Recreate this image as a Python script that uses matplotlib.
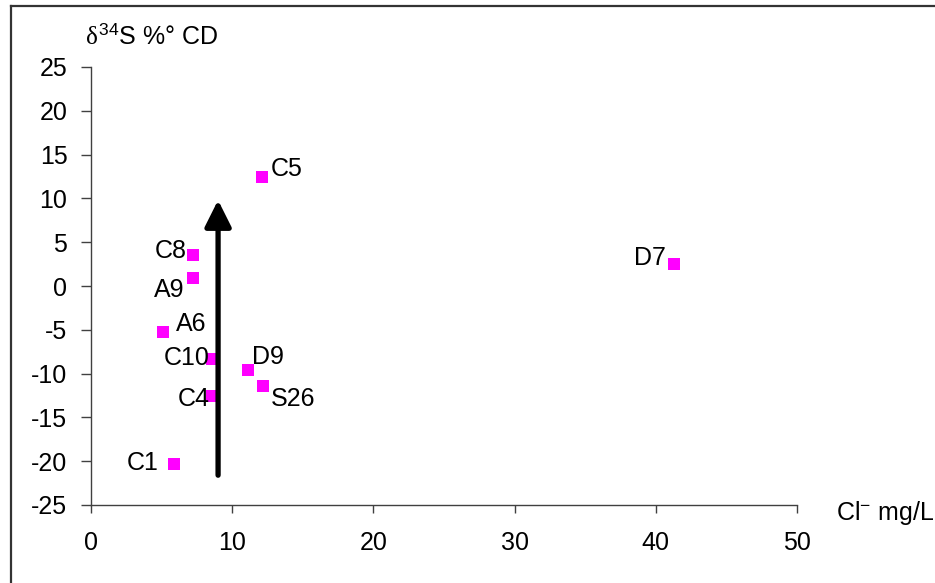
import matplotlib
matplotlib.use("Agg")
import matplotlib.pyplot as plt
from matplotlib.lines import Line2D

plt.rcParams['font.family'] = ['Liberation Sans', 'DejaVu Sans']
plt.rcParams['mathtext.fontset'] = 'custom'
plt.rcParams['mathtext.rm'] = 'Liberation Sans'
plt.rcParams['mathtext.it'] = 'Liberation Serif'

# Data
samples = ["C5", "C8", "A9", "A6", "C10", "D9", "S26", "C4", "C1", "D7"]
chloride = [12.1, 7.25, 7.25, 5.1, 8.55, 11.1, 12.2, 8.55, 5.85, 41.3]
delta34s = [12.4, 3.5, 0.9, -5.2, -8.3, -9.6, -11.4, -12.6, -20.3, 2.5]
# label anchor points (data coords) and alignment
label_x = [12.75, 6.75, 6.65, 8.2, 8.4, 11.4, 12.75, 8.4, 4.8, 40.7]
label_y = [13.35, 4.05, -0.4, -4.35, -8.25, -8.15, -12.85, -12.85, -20.15, 3.25]
label_ha = ["left", "right", "right", "right", "right", "left", "left", "right", "right", "right"]

x_ticks = [0, 10, 20, 30, 40, 50]
y_ticks = [-25, -20, -15, -10, -5, 0, 5, 10, 15, 20, 25]
arrow_x = 9.0
arrow_from = -21.6
arrow_to = 9.8

FS = 18
W, H = 935, 583
fig = plt.figure(figsize=(W / 100, H / 100), dpi=100)
left, right, top, bottom = 91, 797, 67, 505
ax = fig.add_axes([left / W, (H - bottom) / H, (right - left) / W, (bottom - top) / H])

ax.scatter(chloride, delta34s, marker='s', s=68, color='#FF00FF', zorder=3, linewidths=0)

for name, lx, ly, ha in zip(samples, label_x, label_y, label_ha):
    ax.text(lx, ly, name, ha=ha, va='center', fontsize=FS, color='black', zorder=4)

ax.annotate('', xy=(arrow_x, arrow_to), xytext=(arrow_x, arrow_from),
            arrowprops=dict(arrowstyle='-|>,head_length=16,head_width=8',
                            mutation_scale=1, lw=3.8, color='black',
                            shrinkA=0, shrinkB=0), zorder=5)

ax.set_xlim(0, 50)
ax.set_ylim(-25, 25)
ax.set_xticks(x_ticks)
ax.set_yticks(y_ticks)
ax.set_xticklabels([str(t) for t in x_ticks])
ax.set_yticklabels([str(t) for t in y_ticks])
ax.tick_params(axis='x', direction='out', length=6, width=1, color='#404040', pad=13, labelsize=FS)
ax.tick_params(axis='y', direction='out', length=7, width=1, color='#404040', pad=10, labelsize=FS)
for s in ['top', 'right']:
    ax.spines[s].set_visible(False)
for s in ['left', 'bottom']:
    ax.spines[s].set_color('#404040')
    ax.spines[s].set_linewidth(1.0)

fig.text(85 / W, 1 - 36 / H, r'$\delta^{34}$S %° CD', ha='left', va='center', fontsize=FS)
fig.text(836 / W, 1 - 513 / H, r'Cl$^{-}$ mg/L', ha='left', va='center', fontsize=FS)

# outer chart frame (left and top edges visible)
fig.add_artist(Line2D([10.5 / W, 10.5 / W], [0, 1 - 6 / H], transform=fig.transFigure,
                      color='#333333', linewidth=1.6))
fig.add_artist(Line2D([10.5 / W, 1.0], [1 - 6 / H, 1 - 6 / H], transform=fig.transFigure,
                      color='#333333', linewidth=1.6))

fig.savefig('out.png', dpi=100)
